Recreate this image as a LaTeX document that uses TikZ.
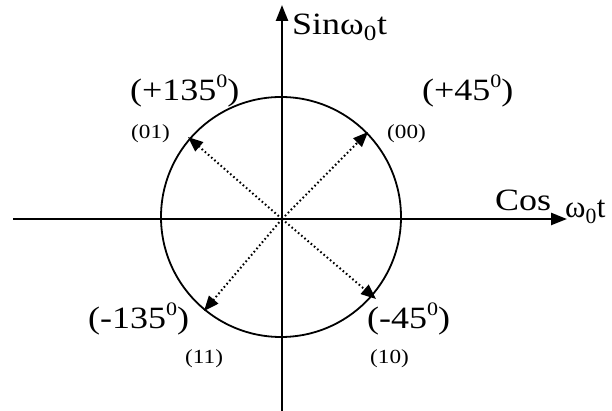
\documentclass[tikz,border=0pt]{standalone}
\usepackage{fontspec}
\setmainfont{Liberation Serif}
\usetikzlibrary{arrows.meta}
\tikzset{
  axis/.style={line width=2.4pt, -{Triangle[length=16pt,width=12pt]}},
  vec/.style={line width=2pt, dash pattern=on 1.6pt off 2.6pt, -{Triangle[length=15pt,width=12pt]}},
  big/.style={font=\fontsize{31}{31}\selectfont, inner sep=0pt, anchor=base west},
  small/.style={font=\fontsize{20}{20}\selectfont, inner sep=0pt, anchor=base west},
}
\newcommand{\hs}[1]{\scalebox{1.16}[1]{#1}}
\newcommand{\supz}{\raisebox{0.45em}{\fontsize{19}{19}\selectfont 0}}
\begin{document}
\begin{tikzpicture}[x=1pt,y=1pt]
\useasboundingbox (0,0) rectangle (612,411);
% axes
\coordinate (xl) at (13,192);
\coordinate (xr) at (567,192);
\coordinate (yb) at (282,0);
\coordinate (yt) at (282,406);
\draw[axis] (xl) -- (xr);
\draw[axis] (yb) -- (yt);
% circle
\coordinate (c) at (281,194);
\draw[line width=1.8pt] (c) circle (120);
% vectors
\coordinate (o) at (282,192);
\coordinate (p00) at (368,279);
\coordinate (p01) at (188,274);
\coordinate (p11) at (204,100);
\coordinate (p10) at (376,112);
\draw[vec] (o) -- (p00);
\draw[vec] (o) -- (p01);
\draw[vec] (o) -- (p11);
\draw[vec] (o) -- (p10);
% labels
\node[big] (sin) at (292,376) {\hs{Sinω\textsubscript{0}t}};
\node[big] (cos) at (495,200) {\hs{Cos}\hspace{14pt}\raisebox{-7pt}{ω\textsubscript{0}t}};
\node[big] (l135) at (130,310) {\hs{(+135\supz)}};
\node[big] (l45) at (422,310) {\hs{(+45\supz)}};
\node[big] (lm135) at (88,82) {\hs{(-135\supz)}};
\node[big] (lm45) at (367,82) {\hs{(-45\supz)}};
\node[small] (b01) at (131,272) {\hs{(01)}};
\node[small] (b00) at (387,272) {\hs{(00)}};
\node[small] (b11) at (185,47) {\hs{(11)}};
\node[small] (b10) at (370,47) {\hs{(10)}};
\end{tikzpicture}
\end{document}
